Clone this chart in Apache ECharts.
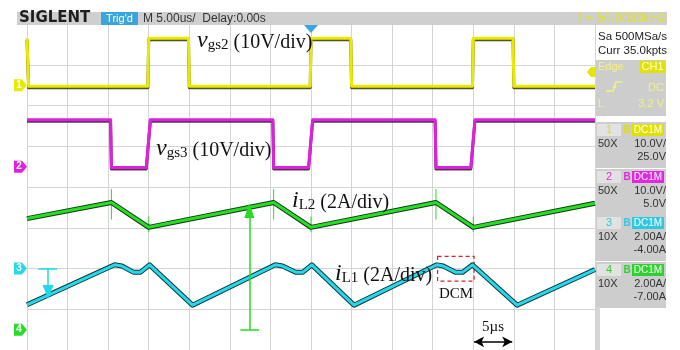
<!DOCTYPE html>
<html>
<head>
<meta charset="utf-8">
<script src="https://cdn.jsdelivr.net/npm/echarts@6/dist/echarts.min.js"></script>
<style>
html,body{margin:0;padding:0;background:#fff;}
#scope{width:680px;height:350px;}
</style>
</head>
<body>
<div id="scope"></div>
<script>
// Horizontal: 5 µs/div, 14 divisions centred on the trigger point
const timeTicks = [-35, -30, -25, -20, -15, -10, -5, 0, 5, 10, 15, 20, 25, 30, 35];

// CH1  v_gs2 (V)
const vgs2Time = [-35, -34.9, -34.8, -20.1, -20, -15.1, -15, -0.1, 0, 4.9, 5, 19.9, 20, 24.9, 25, 35];
const vgs2Volt = [11.5, 11.5, -0.3, -0.3, 11.5, 11.5, -0.3, -0.3, 11.5, 11.5, -0.3, -0.3, 11.5, 11.5, -0.3, -0.3];

// CH2  v_gs3 (V)
const vgs3Time = [-35, -24.7, -24.6, -20.3, -19.8, -4.7, -4.6, -0.3, 0.2, 15.3, 15.4, 19.7, 20.2, 35];
const vgs3Volt = [11.5, 11.5, -0.2, -0.2, 11.5, 11.5, -0.2, -0.2, 11.5, 11.5, -0.2, -0.2, 11.5, 11.5];

// CH4  i_L2 (A)
const iL2Time = [-35, -24.6, -20, -4.6, 0, 15.4, 20, 35];
const iL2Amp  = [5.45, 6.24, 5.02, 6.24, 5.02, 6.24, 5.02, 6.2];
// switching spikes on i_L2
const spikeTime = [-24.6, -20, -4.6, 0, 15.4, 20];
const spikeHigh = [6.9, 5.55, 6.9, 5.55, 6.9, 5.55];
const spikeLow  = [5.4, 4.78, 5.4, 4.78, 5.4, 4.78];

// CH3  i_L1 (A)
const iL1Time = [-35, -24.2, -23.3, -21.9, -21.0, -19.9, -14.6, -4.4, -3.5, -1.9, -1.0, 0.1, 5.3, 15.5, 16.3, 17.8, 18.7, 19.9, 25.4, 35];
const iL1Amp  = [-1.78, 0.18, 0.12, -0.18, -0.18, 0.18, -1.8, 0.18, 0.12, -0.18, -0.18, 0.18, -1.8, 0.18, 0.12, -0.18, -0.18, 0.18, -1.8, -0.05];

// Vertical settings per channel: units/div and offset (screen has 8 divisions, centre = 4)
const ch1 = { scale: 10, offset: 25.0, color: '#eaea00' };
const ch2 = { scale: 10, offset: 5.0,  color: '#e020e0' };
const ch3 = { scale: 2,  offset: -4.0, color: '#28d8e8' };
const ch4 = { scale: 2,  offset: -7.0, color: '#28dc28' };

const toDiv = (v, ch) => 4 + (v + ch.offset) / ch.scale;
const trace = (ts, vs, ch) => ts.map((t, i) => [t, toDiv(vs[i], ch)]);

const spikeData = [];
spikeTime.forEach((t, i) => {
  spikeData.push([t, toDiv(spikeHigh[i], ch4)], [t, toDiv(spikeLow[i], ch4)], [null, null]);
});

function lineSeries(name, data, lineStyle, z, extra) {
  return Object.assign({
    name, type: 'line', data, showSymbol: false, symbol: 'none', silent: true,
    animation: false, z, connectNulls: false,
    lineStyle: Object.assign({ join: 'round', cap: 'butt' }, lineStyle)
  }, extra || {});
}

const chart = echarts.init(document.getElementById('scope'));

const serif = '"Liberation Serif","Times New Roman",serif';
const sans = '"Liberation Sans",Arial,sans-serif';

chart.setOption({
  animation: false,
  grid: { left: 27, top: 24, width: 568, height: 327, containLabel: false },
  xAxis: {
    type: 'value', min: timeTicks[0], max: timeTicks[timeTicks.length - 1], interval: 5,
    axisLine: { show: false }, axisTick: { show: false }, axisLabel: { show: false },
    splitLine: { show: true, lineStyle: { color: '#d4d4d4', width: 1 } }
  },
  yAxis: {
    type: 'value', min: 0, max: 8, interval: 1,
    axisLine: { show: false }, axisTick: { show: false }, axisLabel: { show: false },
    splitLine: { show: true, lineStyle: { color: '#d4d4d4', width: 1 } }
  },
  series: [
    lineSeries('vgs2', trace(vgs2Time, vgs2Volt, ch1),
      { color: ch1.color, width: 3, shadowColor: 'rgba(50,50,0,0.85)', shadowOffsetY: 1.5, shadowBlur: 0 }, 3),
    lineSeries('vgs3', trace(vgs3Time, vgs3Volt, ch2),
      { color: ch2.color, width: 3, shadowColor: 'rgba(40,0,40,0.8)', shadowOffsetY: 1.5, shadowBlur: 0 }, 3),
    lineSeries('iL2-spike', spikeData, { color: '#2ad82a', width: 1 }, 2),
    lineSeries('iL2-edge', trace(iL2Time, iL2Amp, ch4), { color: '#103a10', width: 5 }, 3),
    lineSeries('iL2', trace(iL2Time, iL2Amp, ch4), { color: ch4.color, width: 3 }, 4, {
      markLine: {
        silent: true, animation: false, label: { show: false },
        lineStyle: { color: '#22dd22', width: 1.5, type: 'solid' },
        data: [
          [{ coord: [-7.6, toDiv(0, ch4)], symbol: 'none' },
           { coord: [-7.6, toDiv(5.85, ch4)], symbol: 'triangle', symbolSize: [10, 15] }],
          [{ coord: [-8.7, toDiv(0, ch4)], symbol: 'none' },
           { coord: [-6.4, toDiv(0, ch4)], symbol: 'none' }]
        ]
      }
    }),
    lineSeries('iL1-edge', trace(iL1Time, iL1Amp, ch3), { color: '#0e3a40', width: 5 }, 3),
    lineSeries('iL1', trace(iL1Time, iL1Amp, ch3), { color: ch3.color, width: 3 }, 4, {
      markLine: {
        silent: true, animation: false, label: { show: false },
        lineStyle: { color: '#22d8e8', width: 1.5, type: 'solid' },
        data: [
          [{ coord: [-32.4, toDiv(0, ch3)], symbol: 'none' },
           { coord: [-32.4, toDiv(-1.15, ch3)], symbol: 'triangle', symbolSize: [11, 14] }],
          [{ coord: [-33.6, toDiv(0, ch3)], symbol: 'none' },
           { coord: [-31.3, toDiv(0, ch3)], symbol: 'none' }]
        ]
      },
      markArea: {
        silent: true, animation: false, label: { show: false },
        itemStyle: { color: 'rgba(0,0,0,0)', borderColor: '#e02020', borderWidth: 1.2, borderType: [4, 3] },
        data: [[{ coord: [15.6, toDiv(0.6, ch3)] }, { coord: [20.1, toDiv(-0.62, ch3)] }]]
      }
    }),
    // 5 µs scale bar
    lineSeries('scale', [], { color: '#000', width: 1 }, 5, {
      markLine: {
        silent: true, animation: false, label: { show: false },
        lineStyle: { color: '#000', width: 1.5, type: 'solid' },
        symbol: ['arrow', 'arrow'], symbolSize: [8, 10],
        data: [[{ coord: [20.1, 0.2] }, { coord: [24.8, 0.2] }]]
      }
    })
  ]
});

// ---- overlays: header, side panel, channel tags, annotations ----
const px = (t, d) => chart.convertToPixel({ gridIndex: 0 }, [t, d]);

function tag(ch, num) {
  const y = px(0, toDiv(0, ch))[1];
  return {
    type: 'group', x: 0, y: y, silent: true, z: 20,
    children: [
      { type: 'polygon', shape: { points: [[14, -6], [22, -6], [27, 0], [22, 6], [14, 6]] }, style: { fill: ch.color } },
      { type: 'text', x: 19, y: 0, style: { text: num, fill: '#fff', font: 'bold 10px ' + sans, align: 'center', verticalAlign: 'middle' } }
    ]
  };
}

function sub(sym, s, rest, x, y) {
  return {
    type: 'text', x, y, z: 30, silent: true,
    style: {
      text: '{v|' + sym + '}{s|' + s + '}{n| ' + rest + '}',
      verticalAlign: 'bottom', align: 'left',
      rich: {
        v: { fontFamily: serif, fontStyle: 'italic', fontSize: 24, lineHeight: 24, verticalAlign: 'bottom', fill: '#111' },
        s: { fontFamily: serif, fontSize: 15, lineHeight: 8, verticalAlign: 'bottom', fill: '#111' },
        n: { fontFamily: serif, fontSize: 20, lineHeight: 20, verticalAlign: 'bottom', fill: '#111' }
      }
    }
  };
}

function txt(text, x, y, font, fill, align) {
  return { type: 'text', x, y, z: 40, silent: true,
    style: { text, font, fill, align: align || 'left', verticalAlign: 'middle' } };
}
function rect(x, y, w, h, fill, z) {
  return { type: 'rect', shape: { x, y, width: w, height: h }, style: { fill }, z: z || 35, silent: true };
}

const panelX = 596, panelR = 666, panelW = panelR - panelX;
const paleYellow = '#f2f27e';
const gray = '#cdcdcd';
const rowGray = '#e2e2e2';

function chBlock(y, num, color, probe, scaleTxt, offTxt) {
  return [
    rect(panelX, y, panelW, 46, gray),
    rect(panelX + 1, y + 2, 24, 12, rowGray, 36),
    txt(num, panelX + 13, y + 8, '11px ' + sans, color, 'center'),
    txt('B', panelX + 31, y + 8, 'bold 10px ' + sans, color, 'center'),
    rect(panelX + 36, y + 2, 32, 12, color, 36),
    txt('DC1M', panelX + 52, y + 8, '10px ' + sans, '#fff', 'center'),
    txt(probe, panelX + 2, y + 22, '11px ' + sans, '#333'),
    txt(scaleTxt, panelR, y + 22, '11px ' + sans, '#333', 'right'),
    txt(offTxt, panelR, y + 35, '11px ' + sans, '#333', 'right')
  ];
}

const trigX = px(0, 8)[0];
const trigLevelY = px(0, toDiv(3.2, ch1))[1];

const graphics = [
  // header bar
  rect(17, 12, 650, 13, '#cfcfcf'),
  txt('SIGLENT', 19, 18.5, 'bold 15px "DejaVu Sans",sans-serif', '#1e1e1e'),
  rect(101, 12, 37, 13, '#3aa4dc'),
  txt("Trig'd", 119.5, 18.5, '11px ' + sans, '#fff', 'center'),
  txt('M 5.00us/  Delay:0.00s', 143, 18.5, '12px ' + sans, '#333'),
  txt('f = 50.0030kHz', 666, 18.5, '13px ' + sans, '#e0e028', 'right'),
  txt('Sa 500MSa/s', 598, 37, '11.5px ' + sans, '#222'),
  txt('Curr 35.0kpts', 598, 51, '11.5px ' + sans, '#222'),
  // trigger block
  rect(panelX, 60, panelW, 56, gray),
  txt('Edge', 598, 67, '11px ' + sans, paleYellow),
  rect(640, 61, 25, 12, '#e2e200', 36),
  txt('CH1', 652.5, 67, '11px ' + sans, '#fffbe0', 'center'),
  { type: 'polyline', z: 40, silent: true, shape: { points: [[606, 91], [613, 91], [616, 82], [622, 82]] }, style: { stroke: paleYellow, lineWidth: 1.5, fill: null } },
  { type: 'polygon', z: 40, silent: true, shape: { points: [[612.5, 88], [614.5, 84], [616.5, 88]] }, style: { fill: paleYellow } },
  txt('DC', 664, 88, '11px ' + sans, paleYellow, 'right'),
  txt('L', 598, 104, '11px ' + sans, paleYellow),
  txt('3.2 V', 664, 104, '11px ' + sans, paleYellow, 'right'),
  ...chBlock(122, '1', '#e0e000', '50X', '10.0V/', '25.0V'),
  ...chBlock(169, '2', '#e028e0', '50X', '10.0V/', '5.0V'),
  ...chBlock(215, '3', '#30c8e0', '10X', '2.00A/', '-4.00A'),
  ...chBlock(262, '4', '#30d030', '10X', '2.00A/', '-7.00A'),
  rect(panelX, 307, 4, 43, '#d6d6d6'),
  // trigger position and level markers
  { type: 'polygon', z: 30, silent: true, shape: { points: [[trigX - 7, 25], [trigX + 7, 25], [trigX, 33]] }, style: { fill: '#3aa8e0' } },
  { type: 'polygon', z: 30, silent: true, shape: { points: [[587, trigLevelY], [591, trigLevelY - 5], [597, trigLevelY - 5], [597, trigLevelY + 5], [591, trigLevelY + 5]] }, style: { fill: '#e6e600' } },
  // channel ground tags
  tag(ch1, '1'), tag(ch2, '2'), tag(ch3, '3'), tag(ch4, '4'),
  // signal names
  sub('v', 'gs2', '(10V/div)', 197, 53),
  sub('v', 'gs3', '(10V/div)', 156, 161),
  sub('i', 'L2', '(2A/div)', 292, 213),
  sub('i', 'L1', '(2A/div)', 335, 286),
  txt('DCM', 456, 294, '15px ' + serif, '#111', 'center'),
  txt('5\u00b5s', 493, 327, '15px ' + serif, '#111', 'center')
];

chart.setOption({ graphic: graphics });
</script>
</body>
</html>
